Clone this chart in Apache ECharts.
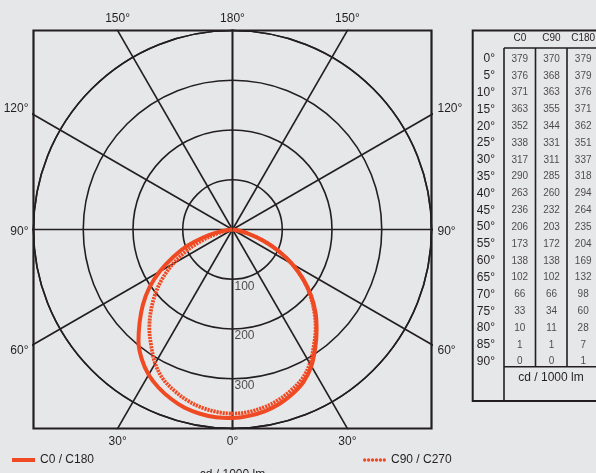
<!DOCTYPE html>
<html><head><meta charset="utf-8">
<script src="https://cdn.jsdelivr.net/npm/echarts@6/dist/echarts.min.js"></script>
<style>html,body{margin:0;padding:0;background:#e6e7e8}#c{width:596px;height:473px}</style>
</head><body><div id="c"></div>
<script>
// ---- data ----
const angles = [0,5,10,15,20,25,30,35,40,45,50,55,60,65,70,75,80,85,90];
const c0   = [379,376,371,363,352,338,317,290,263,236,206,173,138,102,66,33,10,1,0];
const c90  = [370,368,363,355,344,331,311,285,260,232,203,172,138,102,66,34,11,1,0];
const c180 = [379,379,376,371,362,351,337,318,294,264,235,204,169,132,98,60,28,7,1];
const tableColumns = ['C0','C90','C180'];
const rowLabels = angles.map(a => a + '°');
const ringValues = [100,200,300,400];
const ringLabels = [100,200,300];
const spokeAngles = [0,30,60,90,120,150,180];
const seriesNames = ['C0 / C180','C90 / C270'];
const unitLabel = 'cd / 1000 lm';

const INK = '#231f20', ORANGE = '#ef4a23', FONT = 'Liberation Sans';
const R = 400;
const rad = d => d * Math.PI / 180;

// curve points (left = C180 / C270, right = C0 / C90)
function half(vals, side) {
  return angles.map((a, i) => [side * vals[i] * Math.sin(rad(a)), -vals[i] * Math.cos(rad(a))]);
}
const solidData = half(c180, -1).reverse().concat(half(c0, 1).slice(1));
const dottedData = half(c90, -1).reverse().concat(half(c90, 1).slice(1));

// spoke label positions where the spokes meet the frame
const maps = {bottom:{}, top:{}, left:{}, right:{}};
const spokeSeries = [];
spokeAngles.forEach(a => [-1, 1].forEach(side => {
  const dx = side * Math.sin(rad(a)), dy = -Math.cos(rad(a));
  const t = R / Math.max(Math.abs(dx), Math.abs(dy));
  const x = dx * t, y = dy * t;
  if (Math.abs(Math.abs(y) - R) < 1e-6) (y < 0 ? maps.bottom : maps.top)[Math.round(x)] = {v: x, a};
  else (side < 0 ? maps.left : maps.right)[Math.round(y)] = {v: y, a};
  spokeSeries.push({
    type: 'line', xAxisIndex: 0, yAxisIndex: 0, silent: true, symbol: 'none', clip: true, z: 2,
    lineStyle: {color: INK, width: 1.6},
    data: [[0, 0], [dx * 700, dy * 700]]
  });
}));
const vals = m => Object.values(m).map(o => o.v);
const txt = (m, v) => { const o = m[Math.round(v)]; return o ? o.a + '°' : ''; };
const sideFmt = m => v => {
  const t = txt(m, v);
  return v > 1 ? '{u|' + t + '}' : (v < -1 ? '{d|' + t + '}' : '{m|' + t + '}');
};
const labelStyle = {color: INK, fontSize: 12, fontFamily: FONT};
const rich = {
  u: Object.assign({padding: [0, 0, 12, 0]}, labelStyle),
  d: Object.assign({padding: [12, 0, 0, 0]}, labelStyle),
  m: Object.assign({padding: [5, 0, 0, 0]}, labelStyle)
};
const hidden = {axisLine: {show: false}, axisTick: {show: false}, splitLine: {show: false}};

const tableData = [];
angles.forEach((a, i) => [c0, c90, c180].forEach((arr, j) => tableData.push([j, i, arr[i]])));

// legend icon: a row of six dots
let dots = '';
for (let k = 0; k < 6; k++) { const cx = 2 + k * 4; dots += 'M' + (cx - 1.7) + ',1.7a1.7,1.7 0 1,0 3.4,0a1.7,1.7 0 1,0 -3.4,0Z'; }

const option = {
  backgroundColor: '#e6e7e8',
  animation: false,
  textStyle: {fontFamily: FONT, color: INK},
  grid: [
    {left: 33.5, top: 30.5, width: 398, height: 398, show: true, borderColor: INK, borderWidth: 2.2,
      backgroundColor: 'transparent', outerBoundsMode: 'none', containLabel: false},
    {left: 504, top: 50.6, width: 95, height: 319.5, outerBoundsMode: 'none', containLabel: false}
  ],
  polar: {center: [232.5, 229.5], radius: 199},
  angleAxis: {type: 'value', min: 0, max: 360, startAngle: 270,
    axisLine: {show: true, lineStyle: {color: INK, width: 1.6}},
    axisTick: {show: false}, axisLabel: {show: false}, splitLine: {show: false}},
  radiusAxis: {type: 'value', min: 0, max: ringValues[ringValues.length - 1], interval: ringValues[0],
    axisLine: {show: false}, axisTick: {show: false}, axisLabel: {show: false},
    splitLine: {show: true, lineStyle: {color: INK, width: 1.6}}},
  xAxis: [
    Object.assign({type: 'value', gridIndex: 0, position: 'bottom', min: -R, max: R,
      name: unitLabel, nameLocation: 'middle', nameGap: 40, nameTextStyle: labelStyle,
      axisLabel: Object.assign({customValues: vals(maps.bottom), margin: 7, formatter: v => txt(maps.bottom, v)}, labelStyle)}, hidden),
    Object.assign({type: 'value', gridIndex: 0, position: 'top', min: -R, max: R,
      axisLabel: Object.assign({customValues: vals(maps.top), margin: 6, formatter: v => txt(maps.top, v)}, labelStyle)}, hidden),
    Object.assign({type: 'category', gridIndex: 1, position: 'top', data: tableColumns,
      axisLabel: {color: INK, fontSize: 10, fontFamily: FONT, margin: 7, interval: 0}}, hidden)
  ],
  yAxis: [
    Object.assign({type: 'value', gridIndex: 0, position: 'left', min: -R, max: R,
      axisLabel: {customValues: vals(maps.left), margin: 5, formatter: sideFmt(maps.left), rich}}, hidden),
    Object.assign({type: 'value', gridIndex: 0, position: 'right', min: -R, max: R,
      axisLabel: {customValues: vals(maps.right), margin: 6, formatter: sideFmt(maps.right), rich}}, hidden),
    Object.assign({type: 'category', gridIndex: 1, inverse: true, data: rowLabels,
      axisLabel: {color: INK, fontSize: 12, fontFamily: FONT, margin: 9, interval: 0}}, hidden)
  ],
  legend: [
    {left: 12, top: 454, padding: 0, itemWidth: 23, itemHeight: 4, data: [{name: seriesNames[0], icon: 'rect'}],
      textStyle: labelStyle},
    {left: 363, top: 454, padding: 0, itemWidth: 23, itemHeight: 3.4, data: [{name: seriesNames[1], icon: 'path://' + dots}],
      textStyle: labelStyle}
  ],
  graphic: [
    {type: 'rect', shape: {x: 472.7, y: 30.5, width: 200, height: 370.5}, style: {fill: 'none', stroke: INK, lineWidth: 2}, z: 10},
    {type: 'line', shape: {x1: 504, y1: 48, x2: 504, y2: 401}, style: {stroke: INK, lineWidth: 1.6}, z: 10},
    {type: 'line', shape: {x1: 504, y1: 48, x2: 610, y2: 48}, style: {stroke: INK, lineWidth: 1.6}, z: 10},
    {type: 'line', shape: {x1: 504, y1: 366.7, x2: 610, y2: 366.7}, style: {stroke: INK, lineWidth: 1.6}, z: 10},
    {type: 'line', shape: {x1: 535.5, y1: 48, x2: 535.5, y2: 366.7}, style: {stroke: INK, lineWidth: 1.6}, z: 10},
    {type: 'line', shape: {x1: 567, y1: 48, x2: 567, y2: 366.7}, style: {stroke: INK, lineWidth: 1.6}, z: 10},
    {type: 'text', x: 551, y: 377.5, style: {text: unitLabel, fill: INK, font: '12px "Liberation Sans"', textAlign: 'center', textVerticalAlign: 'middle'}, z: 10}
  ],
  series: spokeSeries.concat([
    {name: seriesNames[0], type: 'line', xAxisIndex: 0, yAxisIndex: 0, symbol: 'none', showSymbol: false, smooth: 0.35, z: 5,
      lineStyle: {color: ORANGE, width: 4}, itemStyle: {color: ORANGE}, data: solidData},
    {name: seriesNames[1], type: 'line', xAxisIndex: 0, yAxisIndex: 0, symbol: 'none', showSymbol: false, smooth: 0.35, z: 6,
      lineStyle: {color: ORANGE, width: 3.8, type: [2.2, 0.9]}, itemStyle: {color: ORANGE}, data: dottedData},
    {type: 'scatter', xAxisIndex: 0, yAxisIndex: 0, symbolSize: 0, silent: true, z: 7,
      data: ringLabels.map(r => [0, -r]),
      label: {show: true, position: 'right', offset: [-3, 7], formatter: p => String(-p.value[1]), color: INK, fontSize: 12, fontFamily: FONT}},
    {type: 'scatter', xAxisIndex: 2, yAxisIndex: 2, symbolSize: 0, silent: true, z: 7,
      data: tableData,
      label: {show: true, position: 'inside', formatter: p => String(p.value[2]), color: INK, fontSize: 10, fontFamily: FONT}}
  ])
};
const chart = echarts.init(document.getElementById('c'));
chart.setOption(option);
</script>
</body></html>
